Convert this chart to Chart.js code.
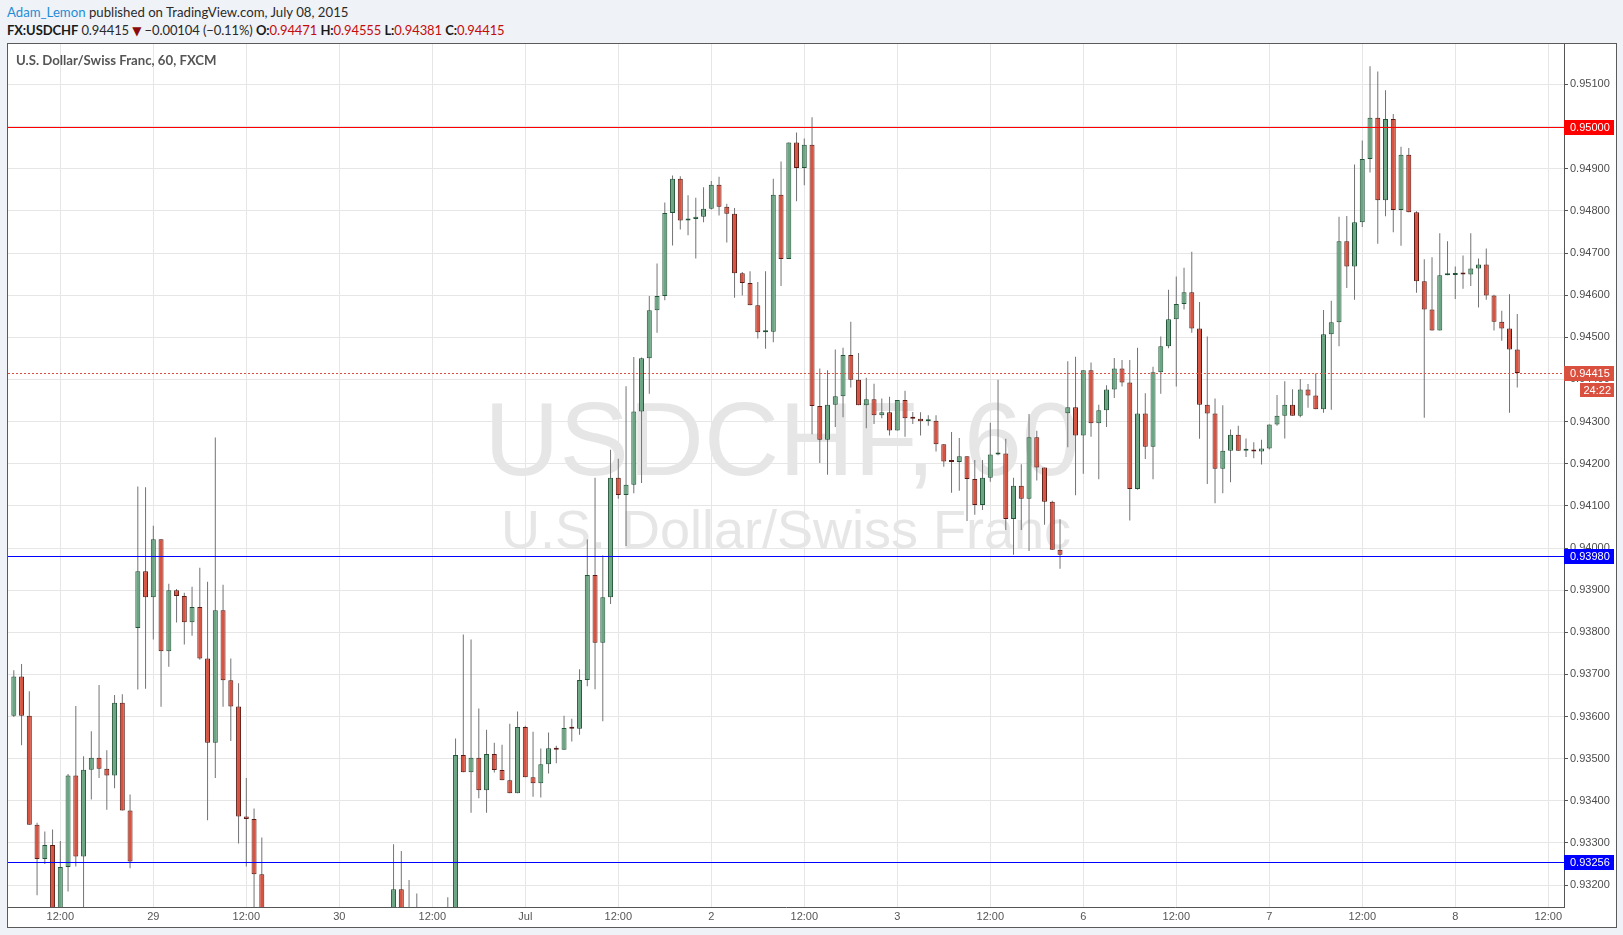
<!DOCTYPE html>
<html>
<head>
<meta charset="utf-8">
<title>USDCHF, 60</title>
<script src="https://cdn.jsdelivr.net/npm/chart.js@4.4.1/dist/chart.umd.min.js"></script>
<style>
  html, body { margin: 0; padding: 0; width: 1623px; height: 935px; overflow: hidden; background: #eff2f6; }
  body { position: relative; font-family: Lato, "Open Sans", "DejaVu Sans", sans-serif; }
  #h1 { position: absolute; left: 7px; top: 4px; font-size: 13.2px; line-height: 16px; color: #2a2a2a; white-space: nowrap; }
  #h1 .user { color: #1f8dd6; }
  #h2 { position: absolute; left: 7px; top: 22px; font-size: 13px; line-height: 16px; color: #2a2a2a; white-space: nowrap; letter-spacing: -0.1px; }
  #h2 b { font-weight: 700; color: #1a1a1a; }
  #h2 .r { color: #c40c0c; }
  #h2 .dn { color: #8b0a0a; font-size: 12px; }
  #frame { position: absolute; left: 7px; top: 43px; width: 1608px; height: 883px; border: 1px solid #5a5a5a; background: #ffffff; }
  #frame canvas { position: absolute; left: 0; top: 0; }
  #symtitle { position: absolute; left: 8px; top: 8px; font-size: 13.2px; font-weight: 700; color: #555555; white-space: nowrap; z-index: 2; }
</style>
</head>
<body>
<div id="h1"><span class="user">Adam_Lemon</span> published on TradingView.com, July 08, 2015</div>
<div id="h2"><b>FX:USDCHF</b> 0.94415 <span class="dn">▼</span> −0.00104 (−0.11%) <b>O:</b><span class="r">0.94471</span> <b>H:</b><span class="r">0.94555</span> <b>L:</b><span class="r">0.94381</span> <b>C:</b><span class="r">0.94415</span></div>
<div id="frame">
  <div id="symtitle">U.S. Dollar/Swiss Franc, 60, FXCM</div>
  <canvas id="c" width="1608" height="883"></canvas>
</div>
<script>
// ---------------- data ----------------
// hourly bars; bar index 0 = first "12:00" label, first visible bar is index -6
const firstBar = -6;

const opens = [
  0.93602,0.93695,0.93602,0.93343,0.93262,0.93295,
  0.93120,0.93243,0.93460,0.93268,0.93474,0.93502,0.93476,0.93460,0.93633,0.93377,
  0.93810,0.93945,0.93883,0.94021,0.93755,0.93900,0.93886,0.93824,0.93860,0.93738,
  0.93538,0.93852,0.93686,0.93624,0.93363,0.93357,0.93226,0.93080,0.93020,0.92990,
  0.93050,0.93010,0.92970,0.93020,0.93060,0.93030,0.93070,0.93040,0.93080,0.93100,
  0.93070,0.93090,0.93110,0.93120,0.93190,0.93100,0.93080,0.93110,0.93090,0.93070,
  0.93100,0.93120,0.93509,0.93468,0.93502,0.93425,0.93511,0.93473,0.93449,0.93418,
  0.93575,0.93456,0.93442,0.93487,0.93525,0.93521,0.93573,0.93571,0.93687,0.93936,
  0.93775,0.93883,0.94167,0.94126,0.94150,0.94324,0.94450,0.94564,0.94598,0.94795,
  0.94876,0.94777,0.94781,0.94786,0.94805,0.94862,0.94810,0.94793,0.94652,0.94629,
  0.94576,0.94512,0.94513,0.94838,0.94686,0.94962,0.94902,0.94957,0.94337,0.94257,
  0.94340,0.94360,0.94458,0.94399,0.94339,0.94353,0.94315,0.94322,0.94279,0.94351,
  0.94308,0.94307,0.94301,0.94302,0.94246,0.94205,0.94204,0.94218,0.94164,0.94102,
  0.94167,0.94222,0.94224,0.94069,0.94148,0.94117,0.94263,0.94191,0.94110,0.93996,
  0.94320,0.94334,0.94267,0.94422,0.94296,0.94327,0.94376,0.94426,0.94393,0.94140,
  0.94319,0.94240,0.94417,0.94479,0.94543,0.94579,0.94607,0.94521,0.94340,0.94319,
  0.94188,0.94231,0.94269,0.94231,0.94232,0.94229,0.94236,0.94293,0.94314,0.94340,
  0.94314,0.94376,0.94362,0.94329,0.94507,0.94536,0.94728,0.94668,0.94773,0.94923,
  0.95021,0.94825,0.95018,0.94802,0.94933,0.94797,0.94633,0.94566,0.94516,0.94647,
  0.94648,0.94651,0.94649,0.94663,0.94673,0.94599,0.94537,0.94521,0.94471
];
const highs = [
  0.93710,0.93725,0.93660,0.93348,0.93327,0.93332,
  0.93305,0.93464,0.93625,0.93506,0.93565,0.93675,0.93520,0.93651,0.93653,0.93415,
  0.94146,0.94144,0.94053,0.94021,0.93915,0.93903,0.93894,0.93908,0.93953,0.93920,
  0.94262,0.93913,0.93738,0.93679,0.93454,0.93382,0.93313,0.93120,0.93090,0.93100,
  0.93110,0.93060,0.93080,0.93110,0.93120,0.93120,0.93110,0.93130,0.93130,0.93130,
  0.93130,0.93130,0.93130,0.93297,0.93281,0.93212,0.93180,0.93130,0.93130,0.93130,
  0.93171,0.93548,0.93795,0.93783,0.93619,0.93569,0.93538,0.93533,0.93583,0.93612,
  0.93578,0.93564,0.93524,0.93562,0.93531,0.93602,0.93595,0.93712,0.94020,0.94167,
  0.93982,0.94233,0.94212,0.94384,0.94453,0.94452,0.94598,0.94675,0.94820,0.94884,
  0.94882,0.94837,0.94831,0.94856,0.94871,0.94881,0.94817,0.94807,0.94655,0.94657,
  0.94631,0.94657,0.94876,0.94917,0.94962,0.94986,0.94972,0.95022,0.94426,0.94422,
  0.94471,0.94475,0.94537,0.94463,0.94404,0.94390,0.94355,0.94359,0.94351,0.94373,
  0.94323,0.94322,0.94315,0.94315,0.94246,0.94275,0.94261,0.94218,0.94209,0.94209,
  0.94297,0.94399,0.94259,0.94167,0.94199,0.94318,0.94278,0.94191,0.94112,0.94068,
  0.94443,0.94454,0.94422,0.94440,0.94340,0.94386,0.94451,0.94446,0.94446,0.94475,
  0.94367,0.94430,0.94502,0.94613,0.94644,0.94665,0.94703,0.94584,0.94502,0.94355,
  0.94339,0.94281,0.94290,0.94260,0.94251,0.94257,0.94293,0.94363,0.94396,0.94377,
  0.94401,0.94389,0.94414,0.94565,0.94587,0.94786,0.94788,0.94910,0.94967,0.95143,
  0.95131,0.95086,0.95030,0.94952,0.94949,0.94799,0.94685,0.94690,0.94747,0.94728,
  0.94668,0.94694,0.94747,0.94687,0.94711,0.94601,0.94563,0.94602,0.94555
];
const lows = [
  0.93599,0.93532,0.93343,0.93176,0.93250,0.93080,
  0.93100,0.93185,0.93244,0.93148,0.93403,0.93454,0.93379,0.93430,0.93377,0.93240,
  0.93664,0.93666,0.93783,0.93623,0.93718,0.93823,0.93771,0.93792,0.93735,0.93354,
  0.93454,0.93623,0.93542,0.93299,0.93244,0.93120,0.93020,0.92960,0.92940,0.92950,
  0.92970,0.92920,0.92950,0.92990,0.93000,0.93010,0.93000,0.93020,0.93050,0.93030,
  0.93040,0.93060,0.93080,0.93090,0.93060,0.93040,0.93050,0.93060,0.93040,0.93050,
  0.93070,0.93100,0.93468,0.93372,0.93406,0.93372,0.93467,0.93449,0.93418,0.93418,
  0.93456,0.93410,0.93408,0.93465,0.93489,0.93521,0.93541,0.93557,0.93672,0.93665,
  0.93589,0.93867,0.94117,0.94005,0.94130,0.94154,0.94366,0.94511,0.94588,0.94718,
  0.94756,0.94742,0.94687,0.94773,0.94803,0.94789,0.94725,0.94594,0.94599,0.94576,
  0.94497,0.94473,0.94488,0.94622,0.94686,0.94823,0.94861,0.94270,0.94202,0.94174,
  0.94287,0.94310,0.94381,0.94339,0.94284,0.94294,0.94308,0.94267,0.94279,0.94264,
  0.94294,0.94267,0.94290,0.94229,0.94193,0.94131,0.94136,0.94064,0.94079,0.94090,
  0.94157,0.94220,0.94043,0.93984,0.94043,0.93993,0.94160,0.94055,0.93996,0.93951,
  0.94239,0.94125,0.94176,0.94264,0.94163,0.94287,0.94356,0.94383,0.94065,0.94138,
  0.94211,0.94163,0.94366,0.94474,0.94383,0.94566,0.94511,0.94259,0.94152,0.94106,
  0.94130,0.94156,0.94231,0.94216,0.94213,0.94198,0.94234,0.94290,0.94260,0.94314,
  0.94310,0.94333,0.94329,0.94321,0.94328,0.94479,0.94617,0.94589,0.94762,0.94891,
  0.94722,0.94787,0.94749,0.94717,0.94797,0.94606,0.94309,0.94516,0.94516,0.94647,
  0.94591,0.94615,0.94622,0.94571,0.94589,0.94516,0.94492,0.94321,0.94381
];
const closes = [
  0.93695,0.93602,0.93343,0.93262,0.93295,0.93120,
  0.93243,0.93460,0.93268,0.93474,0.93502,0.93476,0.93460,0.93633,0.93377,0.93256,
  0.93945,0.93883,0.94021,0.93755,0.93900,0.93886,0.93824,0.93860,0.93738,0.93538,
  0.93852,0.93686,0.93624,0.93363,0.93357,0.93226,0.93080,0.93020,0.92990,0.93050,
  0.93010,0.92970,0.93020,0.93060,0.93030,0.93070,0.93040,0.93080,0.93100,0.93070,
  0.93090,0.93110,0.93120,0.93190,0.93100,0.93080,0.93110,0.93090,0.93070,0.93100,
  0.93120,0.93509,0.93468,0.93502,0.93425,0.93511,0.93473,0.93449,0.93418,0.93575,
  0.93456,0.93442,0.93487,0.93525,0.93521,0.93573,0.93571,0.93687,0.93936,0.93775,
  0.93883,0.94167,0.94126,0.94150,0.94324,0.94450,0.94564,0.94598,0.94795,0.94876,
  0.94777,0.94781,0.94786,0.94805,0.94862,0.94810,0.94793,0.94652,0.94629,0.94576,
  0.94512,0.94513,0.94838,0.94686,0.94962,0.94902,0.94957,0.94337,0.94257,0.94340,
  0.94360,0.94458,0.94399,0.94339,0.94353,0.94315,0.94322,0.94279,0.94351,0.94308,
  0.94307,0.94301,0.94302,0.94246,0.94205,0.94204,0.94218,0.94164,0.94102,0.94167,
  0.94222,0.94224,0.94069,0.94148,0.94117,0.94263,0.94191,0.94110,0.93996,0.93984,
  0.94334,0.94267,0.94422,0.94296,0.94327,0.94376,0.94426,0.94393,0.94140,0.94319,
  0.94240,0.94417,0.94479,0.94543,0.94579,0.94607,0.94521,0.94340,0.94319,0.94188,
  0.94231,0.94269,0.94231,0.94232,0.94229,0.94236,0.94293,0.94314,0.94340,0.94314,
  0.94376,0.94362,0.94329,0.94507,0.94536,0.94728,0.94668,0.94773,0.94923,0.95021,
  0.94825,0.95018,0.94802,0.94933,0.94797,0.94633,0.94566,0.94516,0.94647,0.94648,
  0.94651,0.94649,0.94663,0.94673,0.94599,0.94537,0.94521,0.94471,0.94415
];

const xTickPositions = [0,12,24,36,48,60,72,84,96,108,120,132,144,156,168,180,192];
const xTickLabels = ['12:00','29','12:00','30','12:00','Jul','12:00','2','12:00','3','12:00','6','12:00','7','12:00','8','12:00'];
const yTickValues = [0.932,0.933,0.934,0.935,0.936,0.937,0.938,0.939,0.940,0.941,0.942,0.943,0.944,0.945,0.946,0.947,0.948,0.949,0.950,0.951];
const levelValues = [0.95000, 0.93980, 0.93256];
const lastPrice = 0.94415;
const countdownText = '24:22';
const watermarkLines = ['USDCHF, 60', 'U.S. Dollar/Swiss Franc'];

// ---------------- styles ----------------
const UP_FILL = '#6ba583', UP_BORDER = '#225437';
const DN_FILL = '#d75442', DN_BORDER = '#5b1a13';
const WICK = '#737375';
const levelColors = ['#ff0000', '#0000ff', '#0000ff'];
const LAST_COLOR = '#d9503f';
const AXIS_FONT = '"Liberation Sans", Arial, sans-serif';

const isUp = opens.map((o, k) => closes[k] >= o);
const bodyData = opens.map((o, k) => ({ x: firstBar + k, y: [o, closes[k]] }));
const wickData = opens.map((o, k) => ({ x: firstBar + k, y: [lows[k], highs[k]] }));

const decorPlugin = {
  id: 'decor',
  beforeDraw(chart) {
    const { ctx, chartArea: a } = chart;
    ctx.save();
    ctx.fillStyle = '#ffffff';
    ctx.fillRect(0, 0, chart.width, chart.height);
    const cx = (a.left + a.right) / 2;
    ctx.fillStyle = '#e6e6e6';
    ctx.textAlign = 'center';
    ctx.textBaseline = 'alphabetic';
    ctx.font = '104px ' + AXIS_FONT;
    ctx.fillText(watermarkLines[0], cx - 4, a.top + 431);
    ctx.font = '54px ' + AXIS_FONT;
    ctx.fillText(watermarkLines[1], cx, a.top + 504);
    ctx.restore();
  },
  afterDatasetsDraw(chart) {
    const { ctx, chartArea: a, scales: { y } } = chart;
    ctx.save();
    ctx.beginPath();
    ctx.rect(a.left, a.top, a.right - a.left, a.bottom - a.top);
    ctx.clip();
    ctx.lineWidth = 1;
    levelValues.forEach((v, k) => {
      const py = Math.round(y.getPixelForValue(v)) + 0.5;
      ctx.strokeStyle = levelColors[k];
      ctx.beginPath();
      ctx.moveTo(a.left, py);
      ctx.lineTo(a.right, py);
      ctx.stroke();
    });
    const lp = Math.round(y.getPixelForValue(lastPrice)) + 0.5;
    ctx.strokeStyle = LAST_COLOR;
    ctx.setLineDash([2, 2]);
    ctx.beginPath();
    ctx.moveTo(a.left, lp);
    ctx.lineTo(a.right, lp);
    ctx.stroke();
    ctx.restore();
  },
  afterDraw(chart) {
    const { ctx, chartArea: a, scales: { y } } = chart;
    const boxL = a.right;
    const boxR = chart.width - 2;
    const boxH = 15;
    ctx.save();
    ctx.font = '11px ' + AXIS_FONT;
    ctx.textBaseline = 'middle';
    ctx.textAlign = 'left';
    const drawBox = (v, color) => {
      const py = Math.round(y.getPixelForValue(v));
      ctx.fillStyle = color;
      ctx.fillRect(boxL, py - 7, boxR - boxL, boxH);
      ctx.fillStyle = '#ffffff';
      ctx.fillText(v.toFixed(5), a.right + 6, py + 0.5);
      return py;
    };
    levelValues.forEach((v, k) => drawBox(v, levelColors[k]));
    const lp = drawBox(lastPrice, LAST_COLOR);
    // countdown box
    const cw = 34;
    ctx.fillStyle = LAST_COLOR;
    ctx.fillRect(boxR - cw, lp + 10, cw, 14);
    ctx.fillStyle = '#ffffff';
    ctx.textAlign = 'right';
    ctx.fillText(countdownText, boxR - 3, lp + 17.5);
    ctx.restore();
  }
};

new Chart(document.getElementById('c'), {
  type: 'bar',
  data: {
    datasets: [
      {
        label: 'body',
        data: bodyData,
        order: 0,
        backgroundColor: isUp.map(u => u ? UP_FILL : DN_FILL),
        borderColor: isUp.map(u => u ? UP_BORDER : DN_BORDER),
        borderWidth: 1,
        borderSkipped: false,
        barThickness: 5,
        minBarLength: 2,
        inflateAmount: 0
      },
      {
        label: 'wick',
        data: wickData,
        order: 1,
        backgroundColor: WICK,
        borderWidth: 0,
        barThickness: 1,
        inflateAmount: 0
      }
    ]
  },
  options: {
    responsive: false,
    animation: false,
    devicePixelRatio: 1,
    layout: { padding: 0 },
    plugins: { legend: { display: false }, tooltip: { enabled: false } },
    datasets: { bar: { grouped: false } },
    scales: {
      x: {
        type: 'linear',
        position: 'bottom',
        min: -6.75,
        max: 194.03,
        offset: false,
        grid: { color: '#e6e6e6', offset: false, drawTicks: false },
        border: { color: '#555555' },
        afterBuildTicks(scale) { scale.ticks = xTickPositions.map(v => ({ value: v })); },
        afterFit(scale) { scale.height = 20; scale.paddingLeft = 0; scale.paddingRight = 0; },
        ticks: {
          autoSkip: false,
          maxRotation: 0,
          padding: 3,
          color: '#555555',
          font: { family: AXIS_FONT, size: 11 },
          callback(value) {
            const k = xTickPositions.indexOf(value);
            return k >= 0 ? xTickLabels[k] : null;
          }
        }
      },
      y: {
        type: 'linear',
        position: 'right',
        min: 0.931481,
        max: 0.951960,
        grid: { color: '#e6e6e6', tickColor: '#555555', tickLength: 4 },
        border: { color: '#555555' },
        afterBuildTicks(scale) { scale.ticks = yTickValues.map(v => ({ value: v })); },
        afterFit(scale) { scale.width = 52; scale.paddingTop = 0; scale.paddingBottom = 0; },
        ticks: {
          padding: 2,
          color: '#4d4d4d',
          font: { family: AXIS_FONT, size: 11 },
          callback(value) { return Number(value).toFixed(5); }
        }
      }
    }
  },
  plugins: [decorPlugin]
});
</script>
</body>
</html>
